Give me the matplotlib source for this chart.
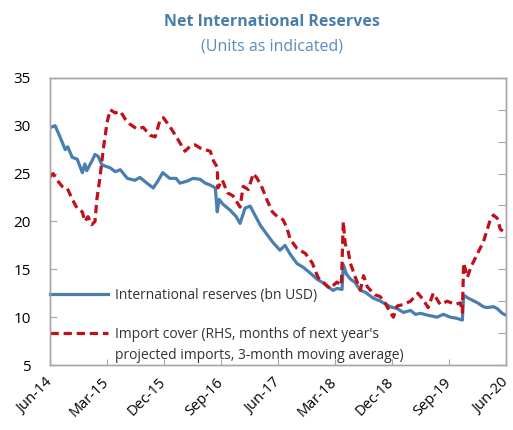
import matplotlib
matplotlib.use("Agg")
import matplotlib.pyplot as plt

plt.rcParams['font.family'] = ['Open Sans', 'DejaVu Sans']

# months since Jun-14
res_x = [0, 0.8, 1.6, 2.4, 2.8, 3.5, 4.3, 5.1, 5.5, 5.8, 6.6, 7.1, 7.6, 8.2, 9.5, 10.3,
         11.1, 12.2, 13.4, 14.2, 15.3, 16.3, 17.1, 17.8, 18.9, 19.9, 20.5, 21.6, 22.6,
         23.7, 24.5, 25.3, 26.1, 26.4, 26.7, 27.3, 28.4, 29.4, 30.0, 30.5, 30.8, 31.6,
         32.4, 33.2, 34.3, 35.2, 36.3, 37.1, 37.9, 39.0, 40.0, 41.1, 42.3, 43.1, 43.8,
         44.7, 45.3, 46.1, 46.3, 46.8, 47.4, 48.2, 49.0, 49.8, 51.0, 52.1, 52.9, 53.7,
         54.8, 55.8, 56.9, 57.7, 58.5, 59.7, 61.1, 62.1, 63.2, 64.1, 65.1, 65.3, 66.0,
         67.5, 68.4, 69.0, 70.0, 70.6, 71.4, 72.0]
reserves = [29.8, 30.0, 28.8, 27.5, 27.8, 26.7, 26.5, 25.1, 26.0, 25.3, 26.3, 27.0, 26.8,
            25.9, 25.6, 25.2, 25.4, 24.5, 24.3, 24.6, 24.0, 23.5, 24.3, 25.1, 24.5, 24.5,
            24.0, 24.2, 24.5, 24.4, 24.0, 23.8, 23.5, 21.0, 22.3, 21.8, 21.2, 20.5, 19.8,
            20.8, 21.4, 21.6, 20.6, 19.6, 18.6, 17.8, 17.0, 17.5, 16.6, 15.6, 15.2, 14.6,
            13.9, 13.6, 13.2, 12.8, 13.0, 12.9, 15.5, 14.5, 14.0, 13.6, 12.8, 12.6, 12.0,
            11.7, 11.4, 11.1, 10.9, 10.5, 10.7, 10.3, 10.4, 10.2, 10.0, 10.3, 10.0, 9.9,
            9.7, 12.3, 12.0, 11.5, 11.1, 11.0, 11.1, 10.9, 10.4, 10.2]

cov_x = [0, 0.5, 1.1, 1.9, 2.7, 3.5, 4.3, 5.1, 5.5, 6.0, 6.6, 7.1, 7.4, 7.9, 8.4, 9.0,
         9.5, 10.3, 11.1, 11.9, 12.6, 13.7, 14.7, 15.8, 16.6, 17.4, 17.9, 19.0, 20.1,
         21.3, 22.1, 22.9, 23.7, 25.3, 25.8, 26.4, 26.5, 27.2, 28.0, 28.9, 30.0, 30.5,
         31.3, 32.1, 32.7, 33.5, 34.3, 35.1, 35.9, 36.8, 37.4, 37.9, 39.0, 40.3, 41.4,
         42.3, 43.1, 44.2, 45.3, 46.0, 46.3, 46.6, 47.1, 47.4, 48.2, 49.0, 49.5, 50.1,
         51.3, 52.1, 52.9, 53.7, 54.2, 54.8, 55.8, 56.9, 58.1, 58.9, 59.7, 60.5, 61.6,
         62.7, 64.0, 64.8, 65.1, 65.3, 65.9, 66.4, 67.5, 68.4, 69.5, 70.0, 70.6, 71.1, 71.9]
import_cover = [5.9, 6.0, 5.8, 5.6, 5.55, 5.2, 4.9, 4.8, 4.5, 4.65, 4.4, 4.5, 5.2, 5.9,
                6.75, 7.6, 8.0, 7.9, 7.95, 7.7, 7.55, 7.4, 7.45, 7.2, 7.15, 7.7, 7.75,
                7.45, 7.1, 6.7, 6.85, 6.9, 6.8, 6.7, 6.4, 6.2, 5.55, 5.8, 5.4, 5.3, 4.95,
                5.6, 5.5, 6.0, 5.85, 5.55, 5.15, 4.8, 4.65, 4.55, 4.3, 3.95, 3.65, 3.5,
                3.2, 2.75, 2.6, 2.4, 2.6, 2.5, 4.5, 3.8, 3.55, 3.2, 2.75, 2.35, 2.8, 2.45,
                2.2, 2.15, 1.95, 1.65, 1.5, 1.85, 1.9, 2.0, 2.25, 2.05, 1.8, 2.25, 1.9,
                2.0, 1.9, 1.95, 1.65, 3.2, 2.75, 3.05, 3.5, 3.85, 4.55, 4.7, 4.6, 4.25, 4.15]

tick_pos = [0, 9, 18, 27, 36, 45, 54, 63, 72]
tick_labels = ["Jun-14", "Mar-15", "Dec-15", "Sep-16", "Jun-17", "Mar-18", "Dec-18", "Sep-19", "Jun-20"]

fig = plt.figure(figsize=(5.13, 4.30), dpi=100)
ax = fig.add_axes([0.0975, 0.151, 0.889, 0.668])
ax2 = ax.twinx()

blue = "#4A7EB0"
red = "#C0101A"
grey = "#A6A6A6"

l1, = ax.plot(res_x, reserves, color=blue, lw=2.3, solid_joinstyle="round")
l2, = ax2.plot(cov_x, import_cover, color=red, lw=2.3, dashes=(2.6, 1.5))

ax.set_xlim(0, 72)
ax.set_ylim(5, 35)
ax.set_yticks([5, 10, 15, 20, 25, 30, 35])
ax2.set_ylim(0, 9)
ax2.set_yticks(range(10))
ax2.set_yticklabels([])

ax.set_xticks(tick_pos)
ax.set_xticklabels(tick_labels, rotation=45, ha="right", va="center",
                   rotation_mode="anchor", fontsize=10.5)
ax.tick_params(axis="y", labelsize=11, direction="in", length=5, color=grey, pad=14)
ax.tick_params(axis="x", direction="in", length=4, color=grey, pad=11)
ax2.tick_params(axis="y", direction="in", length=6, color=grey)

for a in (ax, ax2):
    for s in a.spines.values():
        s.set_color(grey)
        s.set_linewidth(1.0)

ax.legend([l1, l2], ["International reserves (bn USD)",
                     "Import cover (RHS, months of next year's"],
          loc="upper left", bbox_to_anchor=(0.0, 0.27), frameon=False, fontsize=10,
          borderpad=0, borderaxespad=0, handlelength=4.2, handletextpad=0.5,
          labelspacing=1.75, labelcolor="#333333")
ax.text(0.1425, 0.035, "projected imports, 3-month moving average)", transform=ax.transAxes,
        ha="left", va="center", fontsize=10, color="#333333")

fig.text(0.531, 0.950, "Net International Reserves", ha="center", va="center",
         fontsize=11.5, fontweight="bold", color="#4A7EAA")
fig.text(0.531, 0.893, "(Units as indicated)", ha="center", va="center",
         fontsize=11.5, color="#5B8DBB")

fig.savefig("out.png", dpi=100)
